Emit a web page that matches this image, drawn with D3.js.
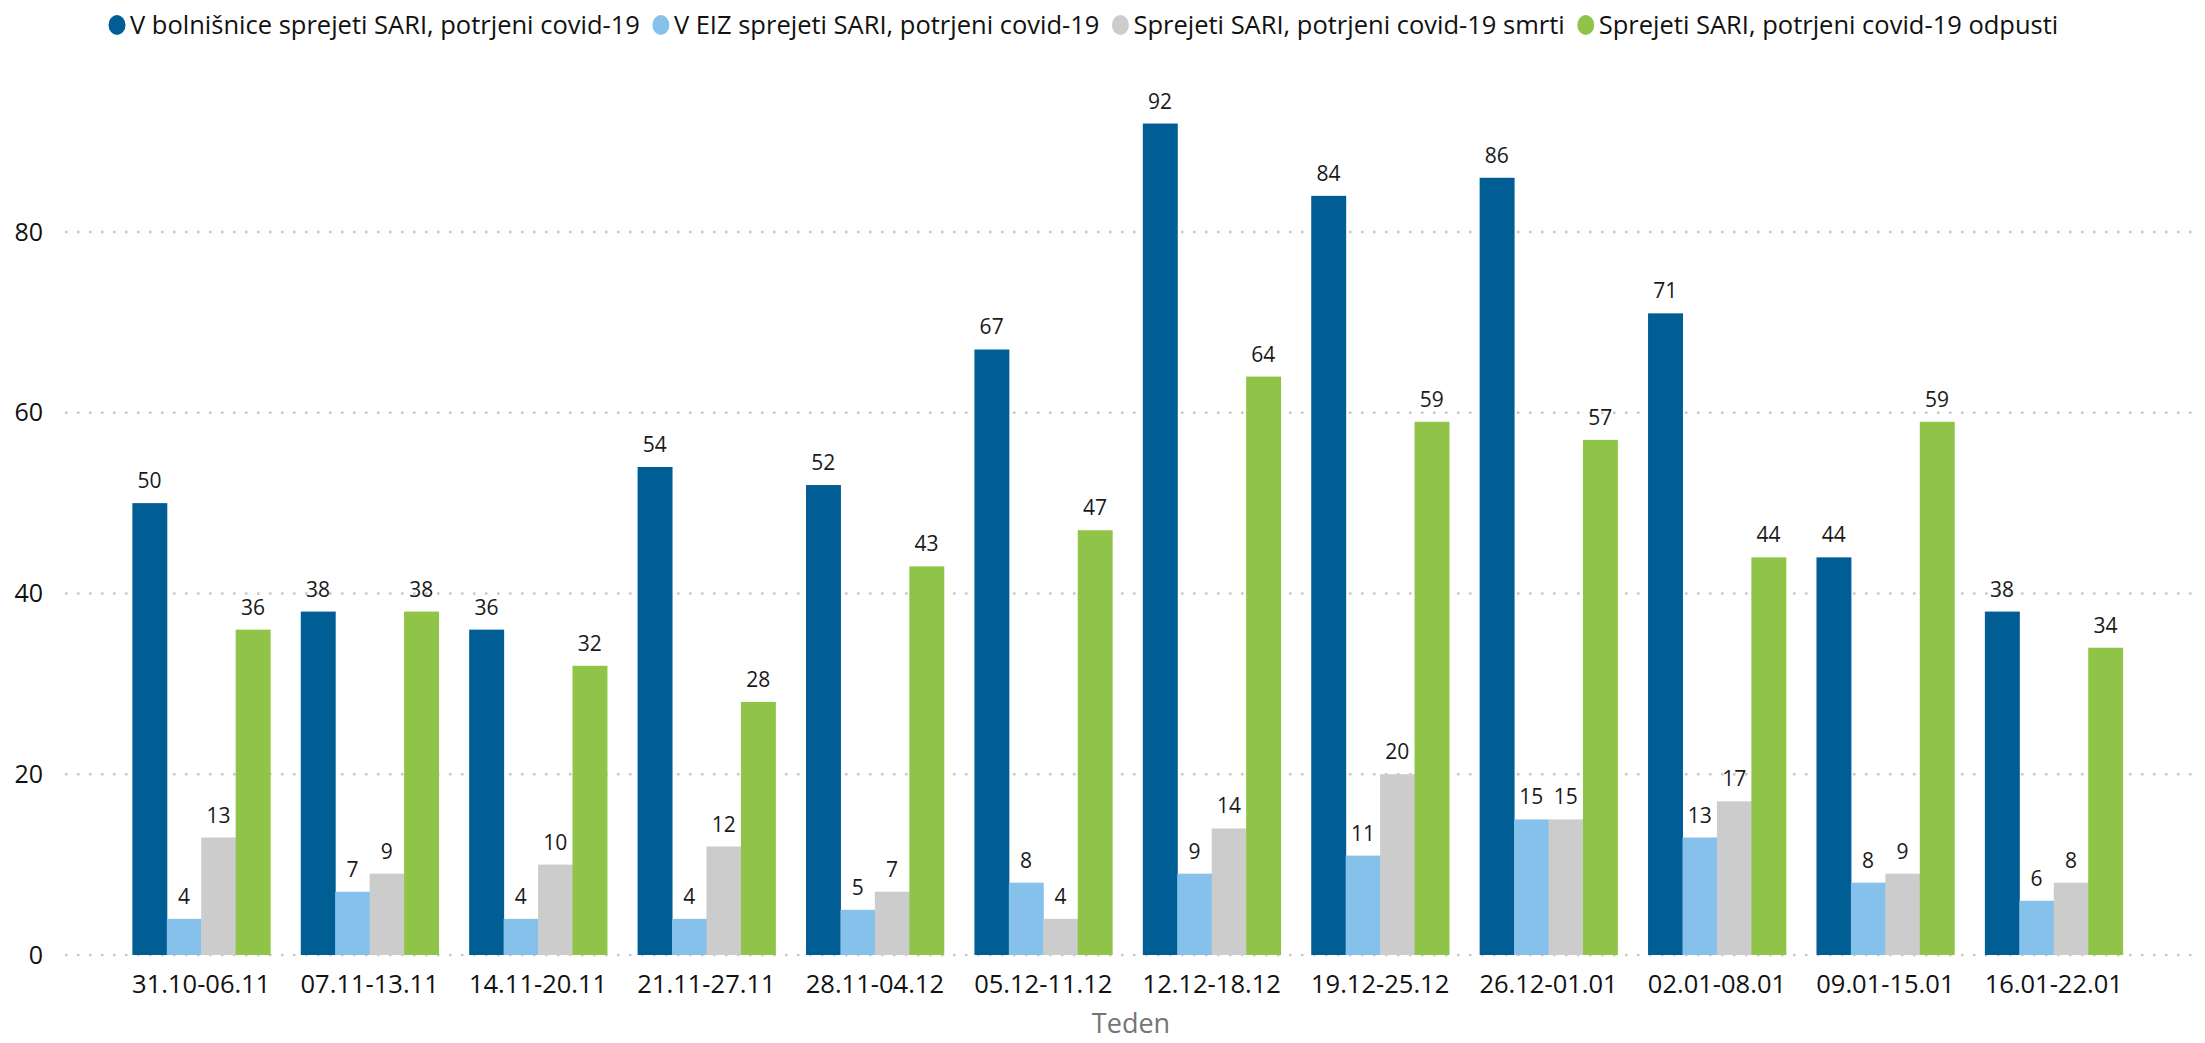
<!DOCTYPE html>
<html>
<head>
<meta charset="utf-8">
<script src="https://cdn.jsdelivr.net/npm/d3@7"></script>
<style>
    body { margin: 0; background: #fff; }
    text { font-family: "Open Sans", "Noto Sans", sans-serif; }
</style>
</head>
<body>
<div class="chartdiv"></div>
<script>
// weeks on x axis
var weeks = ['31.10-06.11', '07.11-13.11', '14.11-20.11', '21.11-27.11', '28.11-04.12', '05.12-11.12',
    '12.12-18.12', '19.12-25.12', '26.12-01.01', '02.01-08.01', '09.01-15.01', '16.01-22.01']

var seriesNames = ['V bolnišnice sprejeti SARI, potrjeni covid-19', 'V EIZ sprejeti SARI, potrjeni covid-19',
    'Sprejeti SARI, potrjeni covid-19 smrti', 'Sprejeti SARI, potrjeni covid-19 odpusti']

var hospital = [50, 38, 36, 54, 52, 67, 92, 84, 86, 71, 44, 38]
var icu = [4, 7, 4, 4, 5, 8, 9, 11, 15, 13, 8, 6]
var deaths = [13, 9, 10, 12, 7, 4, 14, 20, 15, 17, 9, 8]
var discharged = [36, 38, 32, 28, 43, 47, 64, 59, 57, 44, 59, 34]

var yTicks = [0, 20, 40, 60, 80]
var colors = ['#005e95', '#86c1ec', '#cccccc', '#8fc449']

var w = 2205,
    h = 1043

var seriesVals = [hospital, icu, deaths, discharged]
var dataset = weeks.map((wk, i) => {
    return { week: wk, vals: seriesVals.map((s, j) => ({ key: j, value: s[i] })) }
})

var svg = d3.select('.chartdiv')
    .append('svg')
    .attr('width', w)
    .attr('height', h)

////// scales //////
var x0 = d3.scaleBand()
    .domain(weeks)
    .range([65, 2190])
    .paddingInner(0.182)
    .paddingOuter(0.4)

var x1 = d3.scaleBand()
    .domain([0, 1, 2, 3])
    .range([0, x0.bandwidth()])

var yScale = d3.scaleLinear()
    .domain([0, 80])
    .range([955, 232])

// dotted grid
svg.append('g')
    .attr('class', 'grid')
    .selectAll('line')
    .data(yTicks)
    .enter()
    .append('line')
    .attr('x1', 65)
    .attr('x2', 2192)
    .attr('y1', d => yScale(d))
    .attr('y2', d => yScale(d))
    .style('stroke', '#c8c8c8')
    .style('stroke-width', 2.5)
    .style('stroke-dasharray', '2.5,9.5')

// y axis labels (no line)
var gy = svg.append('g')
    .attr('transform', 'translate(43,0)')
    .call(d3.axisLeft(yScale).tickValues(yTicks).tickSize(0).tickPadding(0))
gy.select('.domain').remove()
gy.selectAll('text')
    .style('font-family', '"Open Sans", sans-serif')
    .style('font-size', '25px')
    .style('fill', '#111')

// bars
var groups = svg.append('g')
    .selectAll('g')
    .data(dataset)
    .enter()
    .append('g')
    .attr('transform', d => 'translate(' + x0(d.week) + ',0)')

groups.selectAll('rect')
    .data(d => d.vals)
    .enter()
    .append('rect')
    .attr('x', d => x1(d.key))
    .attr('width', x1.bandwidth() + 0.5)
    .attr('y', d => yScale(d.value))
    .attr('height', d => yScale(0) - yScale(d.value))
    .style('fill', d => colors[d.key])

// value labels
groups.selectAll('text')
    .data(d => d.vals)
    .enter()
    .append('text')
    .attr('x', d => x1(d.key) + x1.bandwidth() / 2)
    .attr('y', d => yScale(d.value) - 15)
    .attr('text-anchor', 'middle')
    .style('font-size', '21px')
    .style('fill', '#1a1a1a')
    .text(d => d.value)

// x axis labels
var gx = svg.append('g')
    .attr('transform', 'translate(0,955)')
    .call(d3.axisBottom(x0).tickSize(0).tickPadding(0))
gx.select('.domain').remove()
gx.selectAll('text')
    .attr('y', 38)
    .attr('dy', 0)
    .style('font-family', '"Open Sans", sans-serif')
    .style('font-size', '25.5px')
    .style('fill', '#111')

// x axis title
svg.append('text')
    .attr('x', 1131)
    .attr('y', 1033)
    .attr('text-anchor', 'middle')
    .style('font-size', '27px')
    .style('fill', '#757575')
    .text('Teden')

// legend - laid out one after another
var legend = svg.append('g').attr('class', 'legend')
var lx = 108
seriesNames.forEach((name, i) => {
    let item = legend.append('g').attr('transform', 'translate(' + lx + ',25)')
    item.append('ellipse')
        .attr('cx', 9)
        .attr('cy', 0)
        .attr('rx', 8.5)
        .attr('ry', 10)
        .style('fill', colors[i])
    let t = item.append('text')
        .attr('x', 22)
        .attr('y', 9)
        .style('font-size', '25.5px')
        .style('fill', '#111')
        .text(name)
    lx += 22 + t.node().getComputedTextLength() + 12
})
</script>
</body>
</html>
